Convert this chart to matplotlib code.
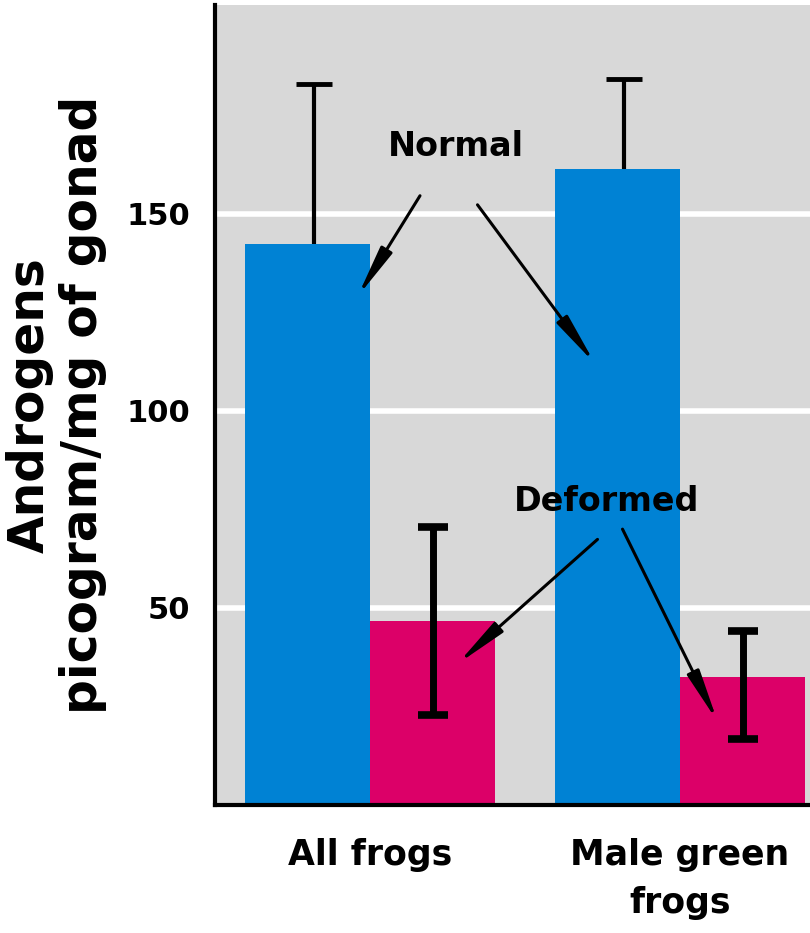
import numpy as np
from matplotlib import pyplot as plt

# data
groups = ['All frogs', 'Male green\nfrogs']
normal = [142.4, 161.4]
normal_err_up = [40.6, 22.9]
deformed = [46.6, 32.4]
deformed_err_low = [23.7, 15.6]
deformed_err_up = [24.0, 11.7]
yticks = [50, 100, 150]

blue = '#0082d4'
pink = '#dc0068'
grey = '#d8d8d8'

fig = plt.figure(figsize=(8.1, 9.33), dpi=100)
ax = fig.add_axes([215/810, (933-805)/933, 595/810, 800/933])
ax.set_facecolor(grey)

x = np.array([0, 2.48])
w = 1.0

ax.bar(x - w/2, normal, width=w, color=blue, zorder=2)
ax.bar(x + w/2, deformed, width=w, color=pink, zorder=2)

# only upper whisker on the normal bars
eb = ax.errorbar(x - w/2 + 0.05, normal, yerr=[[0, 0], normal_err_up], fmt='none',
                 ecolor='black', elinewidth=3, capsize=13, capthick=3.5, zorder=3)
eb[1][0].set_visible(False)  # drop the lower cap
ax.errorbar(x + w/2, deformed, yerr=[deformed_err_low, deformed_err_up], fmt='none',
            ecolor='black', elinewidth=5, capsize=11, capthick=5.5, zorder=3)

ax.set_xlim(-1.24, 3.52)
ax.set_ylim(0, 203)
ax.set_yticks(yticks)
ax.set_yticklabels([str(t) for t in yticks], fontsize=22, fontweight='bold')
ax.yaxis.grid(True, color='white', linewidth=4)
ax.set_axisbelow(True)
ax.tick_params(axis='y', length=0, pad=18)
ax.set_xticks(x)
ax.set_xticklabels(groups, fontsize=25, fontweight='bold', linespacing=1.5)
ax.tick_params(axis='x', length=0, pad=24)

for s in ['top', 'right']:
    ax.spines[s].set_visible(False)
ax.spines['left'].set_linewidth(3)
ax.spines['bottom'].set_linewidth(3)

ax.set_ylabel('Androgens\npicogram/mg of gonad', fontsize=35, fontweight='bold',
              linespacing=1.12, labelpad=14)

arrow = dict(arrowstyle='-|>,head_length=1.1,head_width=0.14', lw=2.2, color='black',
             mutation_scale=28, shrinkA=0, shrinkB=0)
ax.text(0.69, 167, 'Normal', fontsize=24, fontweight='bold', ha='center', va='center', zorder=4)
ax.annotate('', xy=(-0.10, 129), xytext=(0.40, 154.6), arrowprops=arrow, zorder=4)
ax.annotate('', xy=(1.80, 112), xytext=(0.86, 152.3), arrowprops=arrow, zorder=4)
ax.text(1.89, 77, 'Deformed', fontsize=24, fontweight='bold', ha='center', va='center', zorder=4)
ax.annotate('', xy=(0.70, 35.8), xytext=(1.82, 67.4), arrowprops=arrow, zorder=4)
ax.annotate('', xy=(2.78, 21.2), xytext=(2.02, 70.0), arrowprops=arrow, zorder=4)

fig.savefig('out.png', dpi=100)
